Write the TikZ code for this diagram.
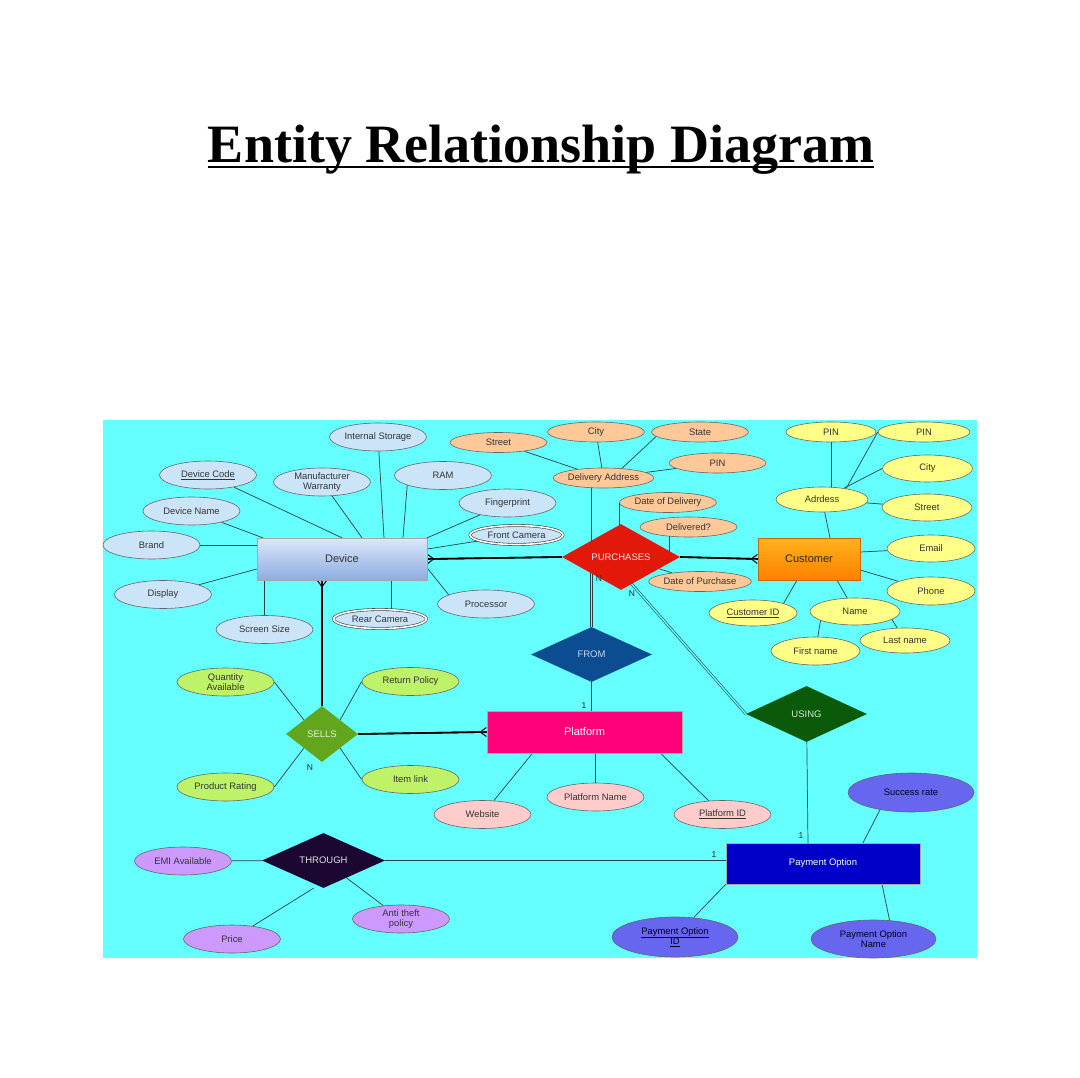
\documentclass[tikz,border=0pt]{standalone}
\usepackage{fontspec}
\setmainfont{Liberation Serif}
\setsansfont{Liberation Sans}
\usepackage{tikz}
\usetikzlibrary{arrows.meta, shapes.geometric, backgrounds}
\usepackage{xcolor}
\definecolor{sky}{RGB}{102,255,255}
\definecolor{wire}{RGB}{38,66,68}
\definecolor{devattr}{RGB}{204,228,248}
\definecolor{addrattr}{RGB}{255,200,152}
\definecolor{custattr}{RGB}{255,255,136}
\definecolor{sellattr}{RGB}{190,242,104}
\definecolor{platattr}{RGB}{255,204,204}
\definecolor{thruattr}{RGB}{204,153,255}
\definecolor{payattr}{RGB}{102,102,238}
\definecolor{purchred}{RGB}{226,24,10}
\definecolor{fromblue}{RGB}{12,76,144}
\definecolor{sellgreen}{RGB}{98,166,30}
\definecolor{thrudark}{RGB}{28,6,50}
\definecolor{usegreen}{RGB}{10,90,10}
\definecolor{platpink}{RGB}{255,0,120}
\definecolor{paynavy}{RGB}{0,0,200}
\definecolor{devtop}{RGB}{220,232,250}
\definecolor{devbot}{RGB}{140,172,224}
\definecolor{custtop}{RGB}{255,178,30}
\definecolor{custbot}{RGB}{255,128,0}

\tikzset{
  attr/.style={ellipse, draw=black!60, line width=0.6pt, inner sep=0pt,
    minimum width=97pt, minimum height=28pt, align=center, text=black!80,
    font=\sffamily\fontsize{9.4}{10.5}\selectfont},
  multi/.style={draw=black!75, double=white, double distance=1.6pt,
    minimum width=93pt, minimum height=19pt},
  entity/.style={rectangle, draw=black!35, inner sep=0pt,
    font=\sffamily\fontsize{11}{12}\selectfont},
  rel/.style={diamond, inner sep=0pt, font=\sffamily\fontsize{9.5}{10}\selectfont},
  link/.style={wire, line width=0.7pt},
  strong/.style={black, line width=1.6pt},
  total/.style={wire, line width=0.6pt, double=sky, double distance=1.4pt},
  crow/.style={postaction={draw, -{Straight Barb[reversed, length=6pt, width=9pt, line width=1pt]}}},
  card/.style={font=\sffamily\fontsize{8.5}{9}\selectfont, inner sep=0pt, text=black!85},
}

\begin{document}
\begin{tikzpicture}[x=1pt, y=-1pt]
  \useasboundingbox (0,0) rectangle (1080,1078);

  % heading
  \node[font=\bfseries\fontsize{54}{60}\selectfont, inner sep=0pt, anchor=base] (title) at (541,163) {Entity Relationship Diagram};
  \draw[line width=2.6pt] ([yshift=-4pt]title.base west) -- ([yshift=-4pt]title.base east);

  % entities
  \node[entity, minimum width=170pt, minimum height=42pt, top color=devtop, bottom color=devbot, text=black!80] (device) at (342,559) {Device};
  \node[entity, minimum width=102pt, minimum height=42pt, top color=custtop, bottom color=custbot, draw=custbot!80!black, text=black!85] (cust) at (809,559) {Customer};
  \node[entity, minimum width=195pt, minimum height=42pt, fill=platpink, text=white] (plat) at (584.5,732) {Platform};
  \node[entity, minimum width=194pt, minimum height=41pt, fill=paynavy, text=white, font=\sffamily\fontsize{9.5}{10}\selectfont] (pay) at (823,863.5) {Payment Option};

  % relationships
  \node[rel, minimum width=118pt, minimum height=56pt, fill=purchred, text={rgb,255:red,255;green,225;blue,220}] (purch) at (621,557) {PURCHASES};
  \node[rel, minimum width=121pt, minimum height=55pt, fill=fromblue, text={rgb,255:red,200;green,215;blue,240}] (from) at (591.5,654.5) {FROM};
  \node[rel, minimum width=72pt, minimum height=56pt, fill=sellgreen, text={rgb,255:red,230;green,240;blue,210}] (sells) at (322,734) {SELLS};
  \node[rel, minimum width=123pt, minimum height=55pt, fill=thrudark, text={rgb,255:red,225;green,225;blue,230}] (through) at (323.5,860.5) {THROUGH};
  \node[rel, minimum width=121pt, minimum height=56pt, fill=usegreen, text={rgb,255:red,215;green,235;blue,215}] (using) at (806.5,714) {USING};

  % device attributes
  \node[attr, fill=devattr] (istore) at (378,437) {Internal Storage};
  \node[attr, fill=devattr] (dcode) at (208,475) {\underline{Device Code}};
  \node[attr, fill=devattr] (mwar) at (322,482) {Manufacturer\\Warranty};
  \node[attr, fill=devattr] (ram) at (443,475.5) {RAM};
  \node[attr, fill=devattr] (dname) at (191.5,511) {Device Name};
  \node[attr, fill=devattr] (fprint) at (507.5,503) {Fingerprint};
  \node[attr, fill=devattr, multi] (fcam) at (516.5,535) {Front Camera};
  \node[attr, fill=devattr] (brand) at (151.5,545) {Brand};
  \node[attr, fill=devattr] (display) at (163,594.5) {Display};
  \node[attr, fill=devattr] (proc) at (486,604) {Processor};
  \node[attr, fill=devattr, multi] (rcam) at (380,619) {Rear Camera};
  \node[attr, fill=devattr] (ssize) at (264.5,629.5) {Screen Size};

  % purchase attributes
  \node[attr, fill=addrattr, minimum height=20pt] (ostreet) at (498.5,442.5) {Street};
  \node[attr, fill=addrattr, minimum height=20pt] (ocity) at (596,432) {City};
  \node[attr, fill=addrattr, minimum height=20pt] (ostate) at (700,432) {State};
  \node[attr, fill=addrattr, minimum height=20pt] (opin) at (717.5,463) {PIN};
  \node[attr, fill=addrattr, minimum height=20pt] (daddr) at (603.5,478) {Delivery Address};
  \node[attr, fill=addrattr, minimum height=20pt] (dod) at (668,502.5) {Date of Delivery};
  \node[attr, fill=addrattr, minimum height=20pt] (deliv) at (688.5,527) {Delivered?};
  \node[attr, fill=addrattr, minimum height=20pt] (dop) at (700,581.5) {Date of Purchase};

  % customer attributes
  \node[attr, fill=custattr, minimum width=90pt, minimum height=20pt] (ypin1) at (831,432) {PIN};
  \node[attr, fill=custattr, minimum width=92pt, minimum height=20pt] (ypin2) at (924,432) {PIN};
  \node[attr, fill=custattr, minimum width=90pt, minimum height=27pt] (ycity) at (927.5,468.5) {City};
  \node[attr, fill=custattr, minimum width=92pt, minimum height=25pt] (adr) at (822,499.5) {Adrdess};
  \node[attr, fill=custattr, minimum width=90pt, minimum height=27pt] (ystreet) at (927,507.5) {Street};
  \node[attr, fill=custattr, minimum width=88pt, minimum height=27pt] (email) at (931,548.5) {Email};
  \node[attr, fill=custattr, minimum width=88pt, minimum height=28pt] (phone) at (931,591) {Phone};
  \node[attr, fill=custattr, minimum width=88pt, minimum height=26pt] (custid) at (753,613) {\underline{Customer ID}};
  \node[attr, fill=custattr, minimum width=90pt, minimum height=27pt] (name) at (855,611.5) {Name};
  \node[attr, fill=custattr, minimum width=90pt, minimum height=25pt] (lname) at (905,640.5) {Last name};
  \node[attr, fill=custattr, minimum width=89pt, minimum height=28pt] (fname) at (815.5,651) {First name};

  % sells attributes
  \node[attr, fill=sellattr] (qty) at (225.5,682) {Quantity\\Available};
  \node[attr, fill=sellattr] (rpol) at (410.5,681.5) {Return Policy};
  \node[attr, fill=sellattr] (prate) at (225.5,787) {Product Rating};
  \node[attr, fill=sellattr] (ilink) at (410.5,779.5) {Item link};

  % platform attributes
  \node[attr, fill=platattr] (web) at (482.5,814.5) {Website};
  \node[attr, fill=platattr] (pname) at (595.5,797) {Platform Name};
  \node[attr, fill=platattr] (pid) at (722.5,814.5) {\underline{Platform ID}};

  % through attributes
  \node[attr, fill=thruattr] (emi) at (183,861) {EMI Available};
  \node[attr, fill=thruattr] (price) at (232,939) {Price};
  \node[attr, fill=thruattr] (anti) at (401,919) {Anti theft\\policy};

  % payment attributes
  \node[attr, fill=payattr, text=black!85!blue, minimum width=126pt, minimum height=39pt] (srate) at (911,792.5) {Success rate};
  \node[attr, fill=payattr, text=black!85!blue, minimum width=126pt, minimum height=40pt] (poid) at (675,937) {\underline{Payment Option}\\\underline{ID}};
  \node[attr, fill=payattr, text=black!85!blue, minimum width=125pt, minimum height=38pt] (poname) at (873.5,939) {Payment Option\\Name};

  % cardinalities
  \node[card] (cpn) at (599,579) {N};
  \node[card] (cun) at (632,594) {N};
  \node[card] (cf1) at (584,706) {1};
  \node[card] (csn) at (310,768) {N};
  \node[card] (ct1) at (714,855) {1};
  \node[card] (cu1) at (801,836) {1};

  \begin{pgfonlayer}{background}
    \fill[sky] (103,420) rectangle (977,958);

    % Device links
    \draw[link] (dcode) -- (device.north);
    \draw[link] (mwar) -- ([xshift=20pt]device.north);
    \draw[link] (istore) -- ([xshift=42pt]device.north);
    \draw[link] ([xshift=-35pt]ram.center) -- ([xshift=61pt]device.north);
    \draw[link] (dname) -- ([xshift=6pt]device.north west);
    \draw[link] (brand) -- (brand -| device.west);
    \draw[link] (display) -- ([yshift=-10pt]device.west);
    \draw[link] (ssize) -- (ssize |- device.south);
    \draw[link] ([xshift=49pt]device.south) -- ([xshift=49pt]device.south |- rcam);
    \draw[link] (fprint) -- (device.north east);
    \draw[link] (fcam) -- ([yshift=10pt]device.east);
    \draw[link] ([xshift=-30pt]proc.center) -- ([yshift=-9pt]device.east);
    \draw[strong, crow] (purch.west) -- (device.east);
    \draw[strong, crow] (sells.north) -- (sells.north |- device.south);

    % PURCHASES links
    \draw[strong, crow] (purch.east) -- (cust.west);
    \draw[link] (daddr -| from) -- (purch -| from);
    \draw[total] (purch -| from) -- (from);
    \draw[link] (from) -- (from |- plat);
    \draw[total] ([xshift=-13pt]purch.center) -- (using.west);
    \draw[link] (dod.west) -- (dod.west |- purch);
    \draw[link] ([xshift=-19pt]deliv.center) -- ([xshift=-19pt]deliv.center |- purch);
    \draw[link] (dop) -- (purch);
    \draw[link] (ostreet) -- (daddr);
    \draw[link] (ocity) -- (daddr);
    \draw[link] ([xshift=-39pt]ostate.center) -- ([xshift=8pt]daddr.center);
    \draw[link] (opin) -- (daddr);

    % Customer links
    \draw[link] (adr) -- ([xshift=21pt]cust.north);
    \draw[link] (ypin1) -- (ypin1 |- adr);
    \draw[link] ([xshift=18pt]adr.center) -- (ypin2.west);
    \draw[link] (adr) -- (ycity.west);
    \draw[link] (adr) -- (ystreet);
    \draw[link] ([yshift=7pt]cust.east) -- (email);
    \draw[link] ([yshift=-11pt]cust.east) -- (phone);
    \draw[link] ([xshift=-12pt]cust.south) -- ([xshift=25pt]custid.center);
    \draw[link] ([xshift=28pt]cust.south) -- (name);
    \draw[link] ([xshift=-33pt]name.center) -- (fname);
    \draw[link] ([xshift=32pt]name.center) -- (lname);

    % SELLS links
    \draw[strong, crow] (sells.east) -- (plat.west);
    \draw[total] (sells) -- (sells |- through);
    \draw[link] (qty.east) -- (sells.north west);
    \draw[link] (rpol.west) -- (sells.north east);
    \draw[link] (prate.east) -- (sells.south west);
    \draw[link] (ilink.west) -- (sells.south east);

    % Platform links
    \draw[link] (web) -- ([xshift=-52pt]plat.south);
    \draw[link] (pname) -- (pname |- plat);
    \draw[link] (pid) -- ([xshift=76pt]plat.south);

    % THROUGH links
    \draw[link] (emi) -- (through);
    \draw[link] (price) -- ([xshift=-10pt]through.south);
    \draw[link] (anti) -- (through);
    \draw[link] (through) -- (through -| pay.west);

    % Payment Option links
    \draw[link] (using) -- ([xshift=-15pt]pay.north);
    \draw[link] ([xshift=-22pt]srate.center) -- ([xshift=40pt]pay.north);
    \draw[link] (poid) -- (pay.south west);
    \draw[link] ([xshift=59pt]pay.south) -- ([xshift=20pt]poname.center);
  \end{pgfonlayer}
\end{tikzpicture}
\end{document}
